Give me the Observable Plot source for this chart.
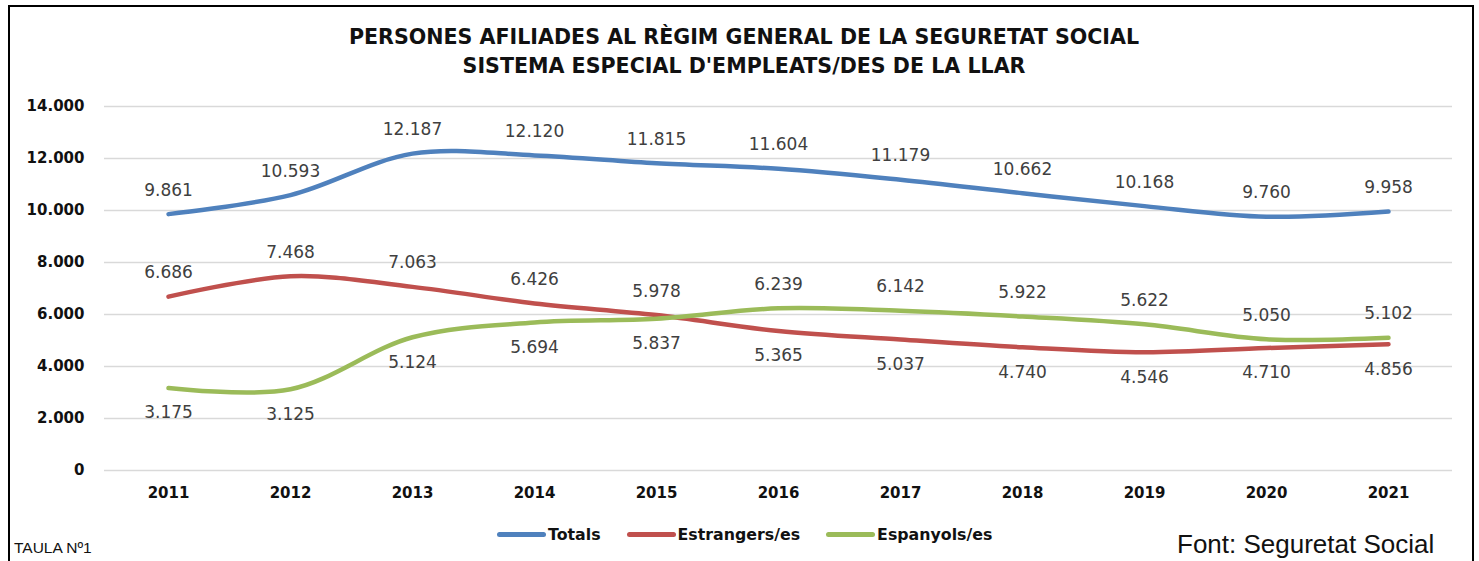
<!DOCTYPE html>
<html>
<head>
<meta charset="utf-8">
<script src="https://cdn.jsdelivr.net/npm/d3@7"></script>
<script src="https://cdn.jsdelivr.net/npm/@observablehq/plot@0.6"></script>
<style>
  html, body { margin: 0; padding: 0; background: #fff; }
  #wrap { position: relative; width: 1479px; height: 561px; overflow: hidden; background: #fff; }
  #frame { position: absolute; left: 8px; top: 5px; width: 1462px; height: 600px; border: 2px solid #000; }
  #title { position: absolute; left: 9px; top: 23px; width: 1470px; text-align: center;
           font-family: "DejaVu Sans", sans-serif; font-weight: bold; font-size: 20.6px; line-height: 29px; color: #111; }
  #chart { position: absolute; left: 0; top: 82px; }
  #legend { position: absolute; left: 497px; top: 525px; display: flex; align-items: center;
            font-family: "DejaVu Sans", sans-serif; font-weight: bold; font-size: 15.8px; color: #111; }
  #legend .item { display: flex; align-items: center; margin-right: 26px; }
  #legend .sw { width: 49px; height: 5px; border-radius: 3px; margin-right: 2px; }
  #taula { position: absolute; left: 14px; top: 539px; font-family: "Liberation Sans", Arial, sans-serif; font-size: 15.5px; color: #111; }
  #font { position: absolute; left: 1177px; top: 529px; font-family: "Liberation Sans", Arial, sans-serif; font-size: 26px; line-height: 30px; color: #111; white-space: nowrap; }
</style>
</head>
<body>
<div id="wrap">
  <div id="frame"></div>
  <div id="title"></div>
  <div id="chart"></div>
  <div id="legend"></div>
  <div id="taula"></div>
  <div id="font"></div>
</div>
<script>
// ---- data ----
const titleLines = ["PERSONES AFILIADES AL RÈGIM GENERAL DE LA SEGURETAT SOCIAL", "SISTEMA ESPECIAL D'EMPLEATS/DES DE LA LLAR"];
const years = [2011, 2012, 2013, 2014, 2015, 2016, 2017, 2018, 2019, 2020, 2021];
const totals = [9861, 10593, 12187, 12120, 11815, 11604, 11179, 10662, 10168, 9760, 9958];
const estrangers = [6686, 7468, 7063, 6426, 5978, 5365, 5037, 4740, 4546, 4710, 4856];
const espanyols = [3175, 3125, 5124, 5694, 5837, 6239, 6142, 5922, 5622, 5050, 5102];
const seriesNames = ["Totals", "Estrangers/es", "Espanyols/es"];
const seriesColors = ["#4F81BD", "#C0504D", "#9BBB59"];
const yTicks = [0, 2000, 4000, 6000, 8000, 10000, 12000, 14000];
const noteLeft = "TAULA Nº1";
const source = "Font: Seguretat Social";

// ---- build ----
const seriesValues = [totals, estrangers, espanyols];
const rows = [];
seriesNames.forEach((name, s) => {
  years.forEach((yr, i) => rows.push({series: name, year: yr, value: seriesValues[s][i]}));
});
// label placement: totals above; of the other two, the higher one above, the lower one below
const labels = rows.map(d => {
  const i = years.indexOf(d.year);
  let above = true;
  if (d.series === "Estrangers/es") above = estrangers[i] >= espanyols[i];
  if (d.series === "Espanyols/es") above = espanyols[i] > estrangers[i];
  return {...d, above};
});

const loc = d3.formatLocale({decimal: ",", thousands: ".", grouping: [3], currency: ["", ""]});
const fmt = loc.format(",");

document.getElementById("title").innerHTML = titleLines.map(t => `<div>${t}</div>`).join("");
document.getElementById("taula").textContent = noteLeft;
document.getElementById("font").textContent = source;
document.getElementById("legend").innerHTML = seriesNames.map((n, i) =>
  `<div class="item"><div class="sw" style="background:${seriesColors[i]}"></div><span>${n}</span></div>`).join("");

const chart = Plot.plot({
  width: 1479,
  height: 430,
  marginTop: 24,
  marginBottom: 42,
  marginLeft: 104,
  marginRight: 27,
  style: {fontFamily: "DejaVu Sans, sans-serif", background: "transparent", color: "#111"},
  x: {type: "point", domain: years, padding: 0.5},
  y: {domain: [0, 14000]},
  color: {domain: seriesNames, range: seriesColors},
  marks: [
    Plot.gridY(yTicks, {stroke: "#d9d9d9", strokeOpacity: 1, strokeWidth: 1.6}),
    Plot.axisY(yTicks, {tickSize: 0, tickPadding: 20, fontSize: 15, fontWeight: "bold", tickFormat: fmt, label: null}),
    Plot.axisX(years, {tickSize: 0, tickPadding: 17, fontSize: 15, fontWeight: "bold", tickFormat: d => String(d), label: null}),
    Plot.line(rows, {x: "year", y: "value", z: "series", stroke: "series", curve: "catmull-rom", strokeWidth: 4.5, strokeLinecap: "round"}),
    Plot.text(labels.filter(d => d.above), {x: "year", y: "value", text: d => fmt(d.value), dy: -24, fontSize: 17, fill: "#404040"}),
    Plot.text(labels.filter(d => !d.above), {x: "year", y: "value", text: d => fmt(d.value), dy: 25, fontSize: 17, fill: "#404040"})
  ]
});
document.getElementById("chart").appendChild(chart);
</script>
</body>
</html>
